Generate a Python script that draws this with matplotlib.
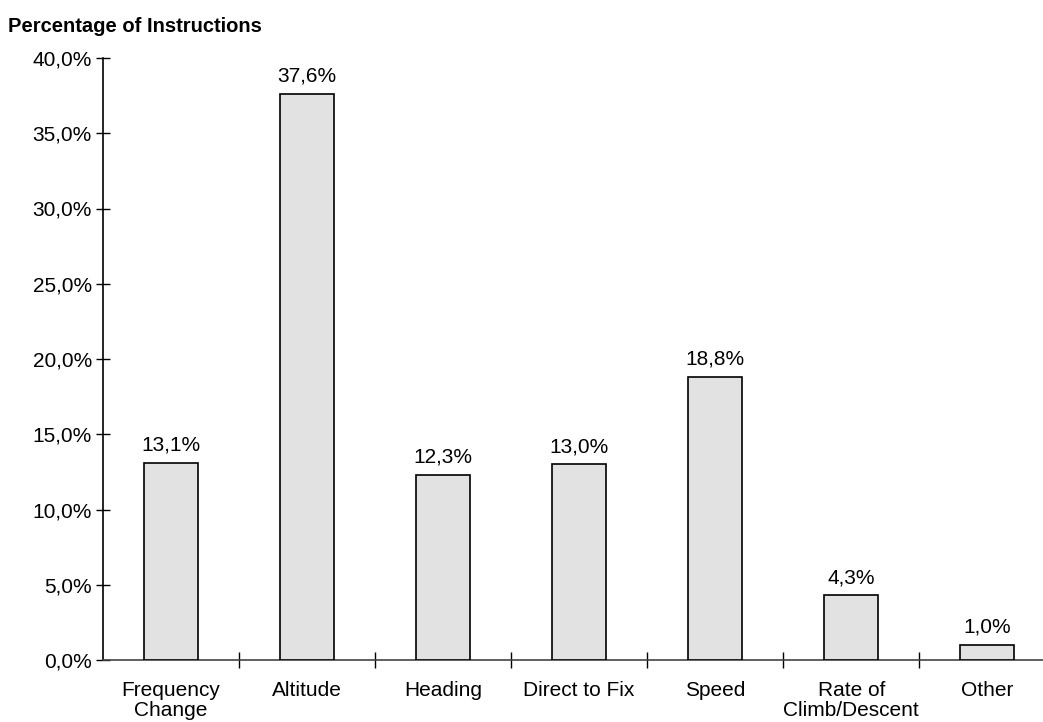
import matplotlib
matplotlib.use("Agg")
import matplotlib.pyplot as plt
import numpy as np

categories = ["Frequency\nChange", "Altitude", "Heading", "Direct to Fix",
              "Speed", "Rate of\nClimb/Descent", "Other"]
shares = [13.1, 37.6, 12.3, 13.0, 18.8, 4.3, 1.0]
y_ticks = [0, 5, 10, 15, 20, 25, 30, 35, 40]

FONT = 15


def pct(v):
    return f"{v:.1f}%".replace(".", ",")


plt.rcParams["font.family"] = ["Liberation Sans", "DejaVu Sans"]

fig = plt.figure(figsize=(10.43, 7.22), dpi=100)
ax = fig.add_axes([103 / 1043, 62 / 722, 1 - 103 / 1043, 602 / 722])

x = np.arange(len(categories))
ax.bar(x, shares, width=0.4, color="#e2e2e2", edgecolor="black", linewidth=1.2, zorder=3)
for xi, v in zip(x, shares):
    ax.text(xi, v + 0.55, pct(v), ha="center", va="bottom", fontsize=FONT)

ax.set_xlim(-0.5, 6.41)
ax.set_ylim(0, 40)
ax.set_yticks(y_ticks)
ax.set_yticklabels([pct(t) for t in y_ticks], fontsize=FONT)
ax.tick_params(axis="y", direction="inout", length=10, width=1, pad=3)

ax.set_xticks(x)
ax.set_xticklabels(categories, fontsize=FONT, linespacing=1.1)
ax.tick_params(axis="x", which="major", length=0, pad=15)
ax.set_xticks(x[:-1] + 0.5, minor=True)
ax.tick_params(axis="x", which="minor", direction="inout", length=11, width=1)

for side in ("top", "right"):
    ax.spines[side].set_visible(False)
ax.spines["left"].set_linewidth(1.2)
ax.spines["bottom"].set_linewidth(1.2)
ax.spines["bottom"].set_color("#444444")

fig.text(8 / 1043, 1 - 27 / 722, "Percentage of Instructions", fontsize=14.5,
         fontweight="bold", ha="left", va="center")

fig.savefig("out.png", dpi=100)
